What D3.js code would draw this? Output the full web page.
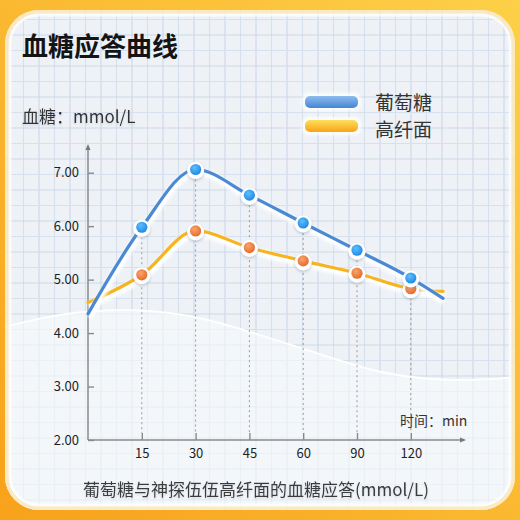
<!DOCTYPE html>
<html><head><meta charset="utf-8">
<script src="https://cdn.jsdelivr.net/npm/d3@7"></script>
<style>html,body{margin:0;padding:0;background:#fff;}svg{display:block;}</style>
</head><body>
<svg id="c" width="520" height="520"></svg>
<script>
// ---- data ----
const times = [0, 15, 30, 45, 60, 90, 120, 138];
const glucose = [4.36, 5.98, 7.06, 6.58, 6.06, 5.55, 5.03, 4.65];
const fiber = [4.57, 5.09, 5.91, 5.60, 5.35, 5.12, 4.83, 4.78];
const xTicks = [15, 30, 45, 60, 90, 120];
const yTicks = [2, 3, 4, 5, 6, 7];
const seriesNames = ["葡萄糖", "高纤面"];
const title = "血糖应答曲线";
const yUnit = "血糖：mmol/L";
const xUnit = "时间：min";
const footer = "葡萄糖与神探伍伍高纤面的血糖应答(mmol/L)";

const FONT = "'Noto Sans CJK SC','Noto Sans',sans-serif";
const svg = d3.select("#c");
const defs = svg.append("defs");

// gradients
const og = defs.append("linearGradient").attr("id","outer").attr("x1","100%").attr("y1","0%").attr("x2","0%").attr("y2","100%");
og.append("stop").attr("offset","0%").attr("stop-color","#fdd048");
og.append("stop").attr("offset","100%").attr("stop-color","#f7a21a");
function lg(id, c1, c2){
  const g = defs.append("linearGradient").attr("id",id).attr("x1","0").attr("y1","0").attr("x2","0").attr("y2","1");
  g.append("stop").attr("offset","0%").attr("stop-color",c1);
  g.append("stop").attr("offset","100%").attr("stop-color",c2);
}
lg("legBlue","#8dbdf0","#4685d4");
lg("legYel","#fede5c","#f6a517");
function rg(id, c1, c2){
  const g = defs.append("radialGradient").attr("id",id).attr("cx","40%").attr("cy","35%").attr("r","70%");
  g.append("stop").attr("offset","0%").attr("stop-color",c1);
  g.append("stop").attr("offset","100%").attr("stop-color",c2);
}
rg("dotBlue","#5cc0ff","#1d85e2");
rg("dotOr","#f9a56a","#e5672a");
const blur = defs.append("filter").attr("id","blur").attr("x","-20%").attr("y","-20%").attr("width","140%").attr("height","140%");
blur.append("feGaussianBlur").attr("stdDeviation",1.6);
const sh = defs.append("filter").attr("id","sh").attr("x","-50%").attr("y","-50%").attr("width","200%").attr("height","200%");
sh.append("feDropShadow").attr("dx",0).attr("dy",1.5).attr("stdDeviation",1.5).attr("flood-color","#8090a8").attr("flood-opacity",0.45);
const tsh = defs.append("filter").attr("id","tsh").attr("x","-10%").attr("y","-30%").attr("width","120%").attr("height","160%");
tsh.append("feDropShadow").attr("dx",0).attr("dy",1.5).attr("stdDeviation",1).attr("flood-color","#9aa4b4").attr("flood-opacity",0.4);

// outer frame
svg.append("rect").attr("width",520).attr("height",520).attr("fill","url(#outer)");
const card = {x:5, y:10, w:510, h:500, r:34};
defs.append("clipPath").attr("id","cardclip").append("rect")
  .attr("x",card.x).attr("y",card.y).attr("width",card.w).attr("height",card.h).attr("rx",card.r);
svg.append("rect").attr("x",card.x).attr("y",card.y).attr("width",card.w).attr("height",card.h).attr("rx",card.r)
  .attr("fill","#eef2f7");

const bg = svg.append("g").attr("clip-path","url(#cardclip)");
// grid
const gs = 15.5;
for (let x = 8, i = 0; x < 520; x += gs, i++) {
  bg.append("line").attr("x1",x).attr("x2",x).attr("y1",0).attr("y2",520)
    .attr("stroke", i%2 ? "#d6e1ed" : "#cbd8e7").attr("stroke-width",1.1);
}
for (let y = 4, i = 0; y < 520; y += gs, i++) {
  bg.append("line").attr("y1",y).attr("y2",y).attr("x1",0).attr("x2",520)
    .attr("stroke", i%2 ? "#d6e1ed" : "#cbd8e7").attr("stroke-width",1.1);
}
// decorative wave (lower lighter region)
const wavePts = [[0,328],[60,313],[130,308],[200,316],[260,335],[320,354],[380,374],[450,382],[520,377]];
const waveLine = d3.line().curve(d3.curveBasis);
bg.append("path").attr("d", waveLine(wavePts) + "L520,520L0,520Z")
  .attr("fill","rgba(249,250,252,0.6)");
bg.append("path").attr("d", waveLine(wavePts)).attr("fill","none").attr("stroke","#ffffff").attr("stroke-width",1.8);
// card inner bevel
svg.append("rect").attr("x",card.x+2).attr("y",card.y+2).attr("width",card.w-4).attr("height",card.h-4).attr("rx",card.r-2)
  .attr("fill","none").attr("stroke","#fbe7b8").attr("stroke-width",4).attr("opacity",0.8);
svg.append("rect").attr("x",card.x+5).attr("y",card.y+5).attr("width",card.w-10).attr("height",card.h-10).attr("rx",card.r-5)
  .attr("fill","none").attr("stroke","#ffffff").attr("stroke-width",3).attr("opacity",0.7);

// ---- scales ----
const x0 = 88, step = 53.8;
const xDomain = [0, 15, 30, 45, 60, 90, 120, 150];
const x = d3.scaleLinear().domain(xDomain).range(xDomain.map((d,i)=>x0 + i*step));
const y = d3.scaleLinear().domain([2, 7]).range([440, 172.7]);

// titles
svg.append("text").attr("x",22).attr("y",56).text(title)
  .attr("font-family",FONT).attr("font-size",26).attr("font-weight",700).attr("fill","#141414");
svg.append("text").attr("x",22).attr("y",123).text(yUnit).attr("filter","url(#tsh)")
  .attr("font-family",FONT).attr("font-size",17).attr("fill","#333");

// legend
const legColors = ["url(#legBlue)","url(#legYel)"];
seriesNames.forEach((n,i)=>{
  const ly = 96 + i*24;
  svg.append("rect").attr("x",302).attr("y",ly-3).attr("width",59).attr("height",18).attr("rx",7)
    .attr("fill","#ffffff").attr("opacity",0.85).attr("filter","url(#blur)");
  svg.append("rect").attr("x",305).attr("y",ly).attr("width",53).attr("height",12).attr("rx",5)
    .attr("fill",legColors[i]);
  svg.append("text").attr("x",375).attr("y",ly + 14 + i*3).text(n)
    .attr("font-family",FONT).attr("font-size",19).attr("fill","#333");
});

// axes
const axisG = svg.append("g");
const yAx = d3.axisLeft(y).tickValues(yTicks).tickSize(-6).tickPadding(9).tickFormat(d3.format(".2f"));
const yg = axisG.append("g").attr("transform",`translate(${x0},0)`).call(yAx);
yg.select(".domain").remove();
const xAx = d3.axisBottom(x).tickValues(xTicks).tickSize(-7).tickPadding(6);
const xg = axisG.append("g").attr("transform","translate(0,440)").call(xAx);
xg.select(".domain").remove();
[yg, xg].forEach(g=>{
  g.selectAll("line").attr("stroke","#8a8a8a").attr("stroke-width",1.4);
  g.selectAll("text").attr("font-family",FONT).attr("font-size",13).attr("fill","#1e1e1e");
});
xg.selectAll("text").attr("dy","0.9em");
// axis lines with arrows
axisG.append("line").attr("x1",x0).attr("x2",x0).attr("y1",440).attr("y2",147).attr("stroke","#8a8a8a").attr("stroke-width",1.5);
axisG.append("path").attr("d",`M${x0-2.5},150L${x0},144L${x0+2.5},150Z`).attr("fill","#777");
axisG.append("line").attr("x1",x0).attr("x2",463).attr("y1",440).attr("y2",440).attr("stroke","#8a8a8a").attr("stroke-width",1.5);
axisG.append("path").attr("d",`M460,437.5L466,440L460,442.5Z`).attr("fill","#777");
svg.append("text").attr("x",400).attr("y",426).text(xUnit)
  .attr("font-family",FONT).attr("font-size",14).attr("fill","#333");

// dotted guides
const gp = xTicks.map(t => times.indexOf(t));
svg.append("g").selectAll("line").data(gp).join("line")
  .attr("x1",i=>x(times[i])).attr("x2",i=>x(times[i]))
  .attr("y1",i=>y(Math.max(glucose[i],fiber[i]))).attr("y2",433)
  .attr("stroke","#9a9a9a").attr("stroke-width",1).attr("stroke-dasharray","2,3");

// lines
const line = d3.line().x((d,i)=>x(times[i])).y(d=>y(d)).curve(d3.curveMonotoneX);
const series = [
  {vals: fiber, color:"#f8b41c", dot:"url(#dotOr)"},
  {vals: glucose, color:"#4a89d4", dot:"url(#dotBlue)"}
];
series.forEach(s=>{
  svg.append("path").attr("d",line(s.vals)).attr("fill","none").attr("stroke","#ffffff")
    .attr("stroke-width",7).attr("transform","translate(1,3)").attr("filter","url(#blur)").attr("opacity",0.95);
  svg.append("path").attr("d",line(s.vals)).attr("fill","none").attr("stroke",s.color)
    .attr("stroke-width",3.2).attr("stroke-linecap","round");
});
series.forEach(s=>{
  const pts = gp.map(i=>[x(times[i]), y(s.vals[i])]);
  const g = svg.append("g");
  g.selectAll("circle.h").data(pts).join("circle").attr("class","h")
    .attr("cx",d=>d[0]).attr("cy",d=>d[1]+1).attr("r",8.5).attr("fill","#fff").attr("filter","url(#sh)");
  g.selectAll("circle.d").data(pts).join("circle").attr("class","d")
    .attr("cx",d=>d[0]).attr("cy",d=>d[1]).attr("r",5.6).attr("fill",s.dot);
});

// footer
svg.append("text").attr("x",256).attr("y",496).attr("text-anchor","middle").text(footer)
  .attr("filter","url(#tsh)")
  .attr("font-family",FONT).attr("font-size",17).attr("fill","#3a3a3a");
</script>
</body></html>
